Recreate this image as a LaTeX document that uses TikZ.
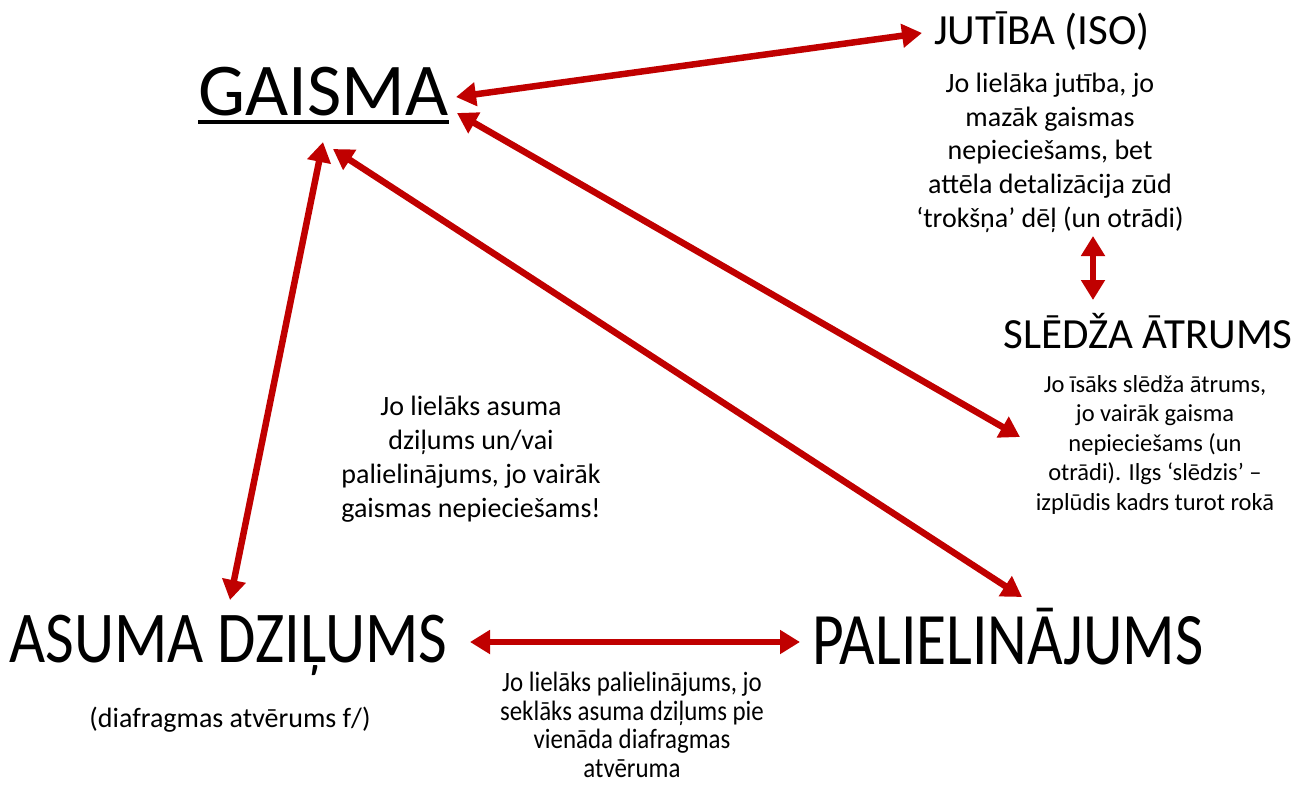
\documentclass[tikz,border=0pt]{standalone}
\usepackage{fontspec}
\setmainfont{Carlito}
\newfontfamily\narrowfont[FakeStretch=0.855]{Carlito}
\newfontfamily\narrowerfont[FakeStretch=0.83]{Carlito}
\newfontfamily\captionfont[FakeStretch=0.89]{Carlito}
\usepackage[dvipsnames,svgnames]{xcolor}
\usepackage{tikz}
\usetikzlibrary{arrows.meta,calc}
\definecolor{arrowred}{RGB}{192,0,0}

\begin{document}
\begin{tikzpicture}[x=1pt,y=-1pt,
	every node/.style={inner sep=0pt,anchor=base},
	arr/.style={line width=6.5pt,color=arrowred,{Triangle[length=20pt,width=23pt]}-{Triangle[length=20pt,width=23pt]}},
	note/.style={align=center,font=\fontsize{28}{34}\selectfont}]
	\useasboundingbox (0,0) rectangle (1299,785);
	\node (gaisma) at (323.5,115) {\fontsize{74.5}{80}\selectfont GAISMA};
	\draw [line width=4.5pt] ([yshift=-7pt]gaisma.base west) -- ([yshift=-7pt]gaisma.base east);
	\node (jutiba) at (1042,44) {\fontsize{43}{50}\selectfont JUT\={I}BA (ISO)};
	\node [note,font=\fontsize{28}{33.6}\selectfont] (jutibatxt) at (1050,227) {Jo liel\={a}ka jut\={\i}ba, jo\\ maz\={a}k gaismas\\ nepiecie\v{s}ams, bet\\ att\={e}la detaliz\={a}cija z\={u}d\\ `trok\v{s}\c{n}a' d\={e}\c{l} (un otr\={a}di)};
	\node (sledza) at (1148,348) {\fontsize{43}{50}\selectfont SL\={E}D\v{Z}A \={A}TRUMS};
	\node [note,font=\fontsize{24.5}{29.5}\selectfont] (sledzatxt) at (1155,510) {Jo \={\i}s\={a}ks sl\={e}d\v{z}a \={a}trums,\\ jo vair\={a}k gaisma\\ nepiecie\v{s}ams (un\\ otr\={a}di). Ilgs `sl\={e}dzis' --\\ izpl\={u}dis kadrs turot rok\={a}};
	\node [note] (vidus) at (471,517) {Jo liel\={a}ks asuma\\ dzi\c{l}ums un/vai\\ palielin\={a}jums, jo vair\={a}k\\ gaismas nepiecie\v{s}ams!};
	\node (asuma) at (228.5,662) {\narrowfont\fontsize{73}{80}\selectfont ASUMA DZI\c{L}UMS};
	\node [font=\fontsize{28}{34}\selectfont] (diafragma) at (230,727) {(diafragmas atv\={e}rums f/)};
	\node (paliel) at (1008,664) {\narrowerfont\fontsize{74}{80}\selectfont PALIELIN\={A}JUMS};
	\node [note,font=\captionfont\fontsize{28}{28.5}\selectfont] (palieltxt) at (632,777) {Jo liel\={a}ks palielin\={a}jums, jo\\ sekl\={a}ks asuma dzi\c{l}ums pie\\ vien\={a}da diafragmas\\ atv\={e}ruma};
	\coordinate (gaisma-e1) at (456,97);
	\coordinate (gaisma-e2) at (457,113);
	\coordinate (gaisma-s1) at (323,142);
	\coordinate (gaisma-s2) at (333,149);
	\coordinate (jutiba-w) at (922,33);
	\coordinate (jutiba-s) at (1093,236);
	\coordinate (sledza-n) at (1093,300);
	\coordinate (sledza-w) at (1020,437);
	\coordinate (asuma-n) at (230,600);
	\coordinate (asuma-e) at (470,642);
	\coordinate (paliel-w) at (800,642);
	\coordinate (paliel-n) at (1022,597);
	\draw [arr] (gaisma-e1) -- (jutiba-w);
	\draw [arr] (gaisma-e2) -- (sledza-w);
	\draw [arr] (gaisma-s1) -- (asuma-n);
	\draw [arr] (gaisma-s2) -- (paliel-n);
	\draw [arr] (asuma-e) -- (paliel-w);
	\draw [arr] (jutiba-s) -- (sledza-n);
\end{tikzpicture}
\end{document}
